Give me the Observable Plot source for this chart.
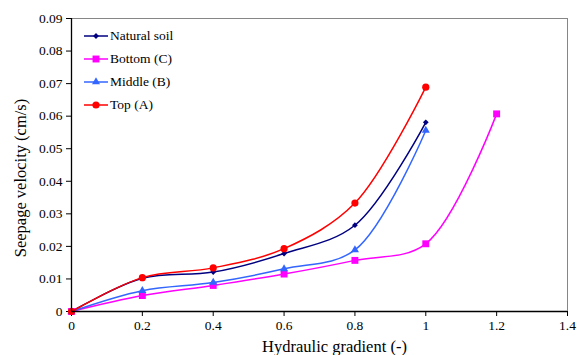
<!DOCTYPE html>
<html>
<head>
<meta charset="utf-8">
<script src="https://cdn.jsdelivr.net/npm/d3@7"></script>
<script src="https://cdn.jsdelivr.net/npm/@observablehq/plot@0.6"></script>
<style>
  html, body { margin: 0; padding: 0; background: #fff; }
  #wrap { position: relative; width: 577px; height: 355px; font-family: "Liberation Serif", "Times New Roman", Times, serif; }
  #wrap svg text { font-family: "Liberation Serif", "Times New Roman", Times, serif !important; }
  #legend { position: absolute; left: 83px; top: 25px; font-size: 13.5px; color: #000; }
  #legend .row { display: flex; align-items: center; height: 22.8px; }
  #legend svg { margin-right: 1px; }
</style>
</head>
<body>
<div id="wrap"><div id="legend"></div></div>
<script>
const gradient = [0, 0.2, 0.4, 0.6, 0.8, 1.0, 1.2];
const seriesNames = ["Natural soil", "Bottom (C)", "Middle (B)", "Top (A)"];
const naturalSoil = [0, 0.0102, 0.0121, 0.0178, 0.0265, 0.0581];
const bottomC = [0, 0.0049, 0.0080, 0.0115, 0.0157, 0.0208, 0.0607];
const middleB = [0, 0.0064, 0.0089, 0.0131, 0.0189, 0.0556];
const topA = [0, 0.0104, 0.0134, 0.0193, 0.0333, 0.0689];
const seriesColors = ["#000080", "#ff00ff", "#3366ff", "#ff0000"];
const seriesSymbols = ["diamond2", "square", "triangle", "circle"];
const seriesR = [2.6, 3.9, 3.0, 3.6];
const xTicks = [0, 0.2, 0.4, 0.6, 0.8, 1.0, 1.2, 1.4];
const xTickLabels = ["0", "0.2", "0.4", "0.6", "0.8", "1", "1.2", "1.4"];
const yTicks = [0, 0.01, 0.02, 0.03, 0.04, 0.05, 0.06, 0.07, 0.08, 0.09];
const yTickLabels = ["0", "0.01", "0.02", "0.03", "0.04", "0.05", "0.06", "0.07", "0.08", "0.09"];

const allValues = [naturalSoil, bottomC, middleB, topA];
const rows = [];
allValues.forEach((vals, si) => vals.forEach((v, i) => rows.push({series: seriesNames[si], x: gradient[i], y: v})));

const font = '"Liberation Serif", "Times New Roman", Times, serif';
const marks = [
  Plot.ruleX([1.4], {stroke: "#868686", strokeWidth: 1}),
  Plot.ruleY([0.09], {stroke: "#868686", strokeWidth: 1}),
  Plot.axisX({ticks: xTicks, tickFormat: d => xTickLabels[xTicks.findIndex(t => Math.abs(t - d) < 1e-9)], tickSize: 5, tickPadding: 4, fontSize: 13.5,
    label: "Hydraulic gradient (-)", labelAnchor: "center", labelArrow: "none", labelOffset: 40}),
  Plot.axisY({ticks: yTicks, tickFormat: d => yTickLabels[yTicks.findIndex(t => Math.abs(t - d) < 1e-9)], tickSize: 5, tickPadding: 4, fontSize: 13.5,
    label: "Seepage velocity (cm/s)", labelAnchor: "center", labelArrow: "none", labelOffset: 56}),
];
seriesNames.forEach((name, si) => {
  const data = rows.filter(r => r.series === name);
  marks.push(Plot.line(data, {x: "x", y: "y", stroke: seriesColors[si], strokeWidth: 1.5, curve: "catmull-rom"}));
  marks.push(Plot.dot(data, {x: "x", y: "y", fill: seriesColors[si], stroke: "none", symbol: seriesSymbols[si], r: seriesR[si]}));
});
marks.push(Plot.ruleX([0], {stroke: "#000", strokeWidth: 1.3}));
marks.push(Plot.ruleY([0], {stroke: "#000", strokeWidth: 1.3}));

const chart = Plot.plot({
  width: 577, height: 355,
  marginLeft: 71, marginRight: 10, marginTop: 18, marginBottom: 44,
  style: {fontFamily: font, fontSize: "13.5px", color: "#000", background: "#fff"},
  x: {domain: [0, 1.4]},
  y: {domain: [0, 0.09]},
  marks
});
const xl = chart.querySelector("g[aria-label='x-axis label']");
const yl = chart.querySelector("g[aria-label='y-axis label']");
[xl, yl].forEach(g => g && g.querySelectorAll("text").forEach(t => t.style.fontSize = "16.5px"));
function shift(g, dx, dy) {
  if (!g) return;
  const prev = g.getAttribute("transform") || "";
  g.setAttribute("transform", `translate(${dx},${dy}) ${prev}`);
}
shift(xl, 15, 0);
shift(yl, -1, 13);
document.getElementById("wrap").prepend(chart);

const legend = document.getElementById("legend");
seriesNames.forEach((name, si) => {
  const row = document.createElement("div");
  row.className = "row";
  const sym = d3.symbol().type({diamond2: d3.symbolDiamond2, square: d3.symbolSquare, triangle: d3.symbolTriangle, circle: d3.symbolCircle}[seriesSymbols[si]]).size(Math.PI * seriesR[si] * seriesR[si])();
  row.innerHTML = `<svg width="26" height="12"><line x1="1" x2="25" y1="6" y2="6" stroke="${seriesColors[si]}" stroke-width="1.5"/><path transform="translate(13,6)" d="${sym}" fill="${seriesColors[si]}"/></svg><span>${name}</span>`;
  legend.appendChild(row);
});
</script>
</body>
</html>
